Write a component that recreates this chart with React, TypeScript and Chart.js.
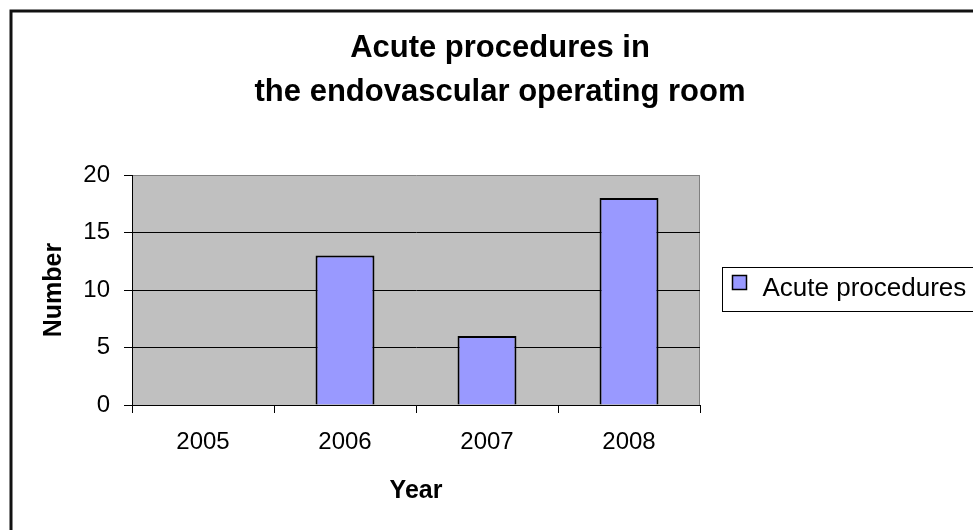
import React, { useEffect, useRef } from 'react';
import { Chart, registerables } from 'chart.js';

Chart.register(...registerables);

const categories = ['2005', '2006', '2007', '2008'];
const seriesLabel = 'Acute procedures';
const values = [0, 13, 6, 18];
const yTicks = [0, 5, 10, 15, 20];
const titleLines = ['Acute procedures in', 'the endovascular operating room'];
const xTitle = 'Year';
const yTitle = 'Number';

const FONT = "'Liberation Sans', Arial, sans-serif";
const BAR_COLOR = '#9999FF';
const PLOT_BG = '#C0C0C0';

const decorPlugin = {
  id: 'decor',
  beforeDraw(chart: any) {
    const { ctx, chartArea: a } = chart;
    ctx.save();
    ctx.fillStyle = '#ffffff';
    ctx.fillRect(0, 0, chart.width, chart.height);
    ctx.fillStyle = PLOT_BG;
    ctx.fillRect(a.left, a.top, a.right - a.left, a.bottom - a.top);
    ctx.strokeStyle = '#808080';
    ctx.lineWidth = 1;
    ctx.beginPath();
    ctx.moveTo(Math.round(a.right) - 0.5, a.top);
    ctx.lineTo(Math.round(a.right) - 0.5, a.bottom);
    ctx.stroke();
    ctx.strokeStyle = '#111';
    ctx.lineWidth = 3;
    ctx.beginPath();
    ctx.moveTo(11, chart.height + 20);
    ctx.lineTo(11, 11);
    ctx.lineTo(chart.width + 20, 11);
    ctx.stroke();
    ctx.restore();
  },
  afterDraw(chart: any) {
    const { ctx, chartArea: a } = chart;
    const ds = chart.data.datasets[0];
    const cy = (a.top + a.bottom) / 2;
    const boxX = Math.round(a.right) + 22.5;
    const boxTop = Math.round(cy - 22) - 0.5;
    ctx.save();
    ctx.strokeStyle = '#000';
    ctx.lineWidth = 1;
    ctx.strokeRect(boxX, boxTop, 300, 44);
    // marker
    const mx = boxX + 10;
    const my = boxTop + 8;
    ctx.fillStyle = ds.backgroundColor;
    ctx.fillRect(mx, my, 14, 14);
    ctx.lineWidth = 1.5;
    ctx.strokeRect(mx, my, 14, 14);
    ctx.fillStyle = '#000';
    ctx.font = `26px ${FONT}`;
    ctx.textBaseline = 'middle';
    ctx.textAlign = 'left';
    ctx.fillText(ds.label, boxX + 40, boxTop + 21);
    ctx.restore();
  },
};

export default function App() {
  const canvasRef = useRef<HTMLCanvasElement | null>(null);

  useEffect(() => {
    document.body.style.margin = '0';
    const canvas = canvasRef.current;
    if (!canvas) return;
    const chart = new Chart(canvas, {
      type: 'bar',
      data: {
        labels: categories,
        datasets: [
          {
            label: seriesLabel,
            data: values,
            backgroundColor: BAR_COLOR,
            borderColor: '#000',
            borderWidth: 2,
            categoryPercentage: 1,
            barPercentage: 0.415,
          },
        ],
      },
      options: {
        responsive: false,
        animation: false,
        devicePixelRatio: 1,
        layout: { padding: { left: 27, right: 0, top: 0, bottom: 0 } },
        plugins: {
          legend: { display: false },
          tooltip: { enabled: false },
          title: {
            display: true,
            text: titleLines,
            color: '#000',
            font: { size: 31, weight: 'bold', family: FONT, lineHeight: 1.42 },
            padding: { top: 26, bottom: 61 },
          },
        },
        scales: {
          x: {
            offset: true,
            grid: {
              offset: true,
              drawOnChartArea: false,
              drawTicks: true,
              tickLength: 8,
              color: '#000',
            },
            border: { display: true, color: '#000', width: 1 },
            ticks: {
              font: { size: 24, family: FONT },
              color: '#000',
              padding: 15,
              maxRotation: 0,
              autoSkip: false,
            },
            title: {
              display: true,
              text: xTitle,
              color: '#000',
              font: { size: 25, weight: 'bold', family: FONT, lineHeight: 1.2 },
              padding: { top: 0, bottom: 24 },
            },
            afterFit: (s: any) => {
              s.height = 125;
            },
          },
          y: {
            min: 0,
            max: 20,
            afterBuildTicks: (s: any) => {
              s.ticks = yTicks.map((v) => ({ value: v }));
            },
            ticks: {
              font: { size: 24, family: FONT },
              color: '#000',
              padding: 14,
            },
            grid: {
              color: (c: any) => (c.tick && c.tick.value === 20 ? '#808080' : '#000'),
              tickColor: '#000',
              tickLength: 8,
              lineWidth: 1,
            },
            border: { display: true, color: '#000', width: 1 },
            title: {
              display: true,
              text: yTitle,
              color: '#000',
              font: { size: 25, weight: 'bold', family: FONT, lineHeight: 1.2 },
              padding: { top: 12, bottom: 0 },
            },
            afterFit: (s: any) => {
              s.width = 105;
            },
          },
          y2: {
            type: 'linear',
            position: 'right',
            display: true,
            grid: { display: false, drawTicks: false },
            ticks: { display: false },
            border: { display: false },
            afterFit: (s: any) => {
              s.width = 273;
            },
          },
        },
      },
      plugins: [decorPlugin],
    } as any);
    return () => chart.destroy();
  }, []);

  return (
    <div style={{ position: 'absolute', left: 0, top: 0, width: 973, height: 530 }}>
      <canvas ref={canvasRef} width={973} height={530} style={{ display: 'block' }} />
    </div>
  );
}
